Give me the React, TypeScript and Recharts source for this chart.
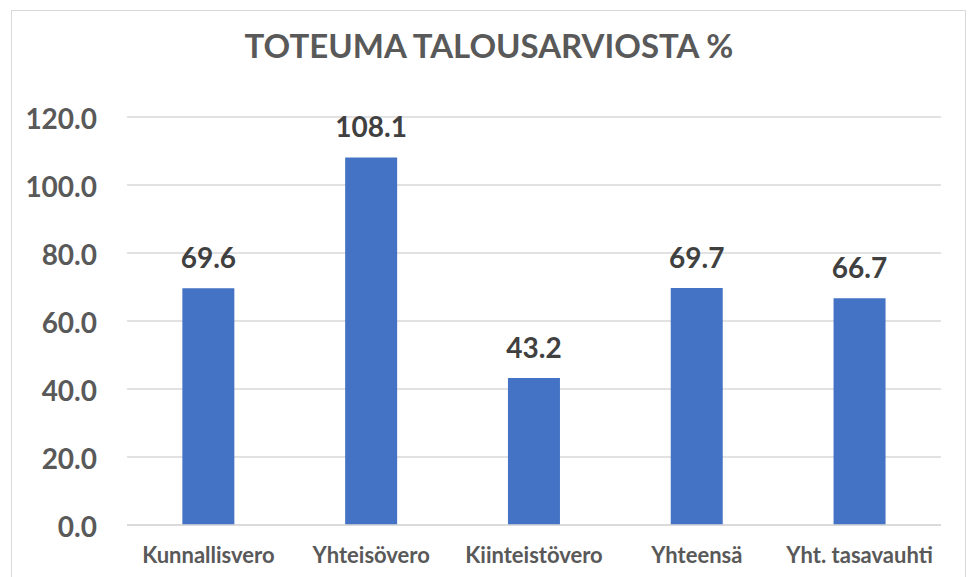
import React from "react";
import { BarChart, Bar, XAxis, YAxis, CartesianGrid, LabelList } from "recharts";

const categories = ["Kunnallisvero", "Yhteisövero", "Kiinteistövero", "Yhteensä", "Yht. tasavauhti"];
const values = [69.6, 108.1, 43.2, 69.7, 66.7];
const yTicks = [0, 20, 40, 60, 80, 100, 120];
const title = "TOTEUMA TALOUSARVIOSTA %";

const data = categories.map((name, i) => ({ name, value: values[i] }));

const FONT = "Lato, 'Open Sans', sans-serif";

export default function App() {
  return (
    <div style={{ position: "absolute", left: 0, top: 0, width: 974, height: 577, overflow: "hidden", background: "#fff" }}>
      <div
        style={{
          position: "absolute",
          left: 11,
          top: 10,
          width: 955,
          height: 600,
          border: "1.5px solid #d9d9d9",
          boxSizing: "border-box",
        }}
      />
      <div
        style={{
          position: "absolute",
          left: 11,
          width: 956,
          top: 23,
          textAlign: "center",
          fontFamily: FONT,
          fontWeight: 700,
          fontSize: 33,
          color: "#595959",
          lineHeight: "44px",
        }}
      >
        {title}
      </div>
      <div style={{ position: "absolute", left: 0, top: 0 }}>
        <BarChart
          width={974}
          height={577}
          data={data}
          margin={{ top: 117, right: 33, bottom: 22, left: 17 }}
          barCategoryGap="34%"
        >
          <CartesianGrid vertical={false} stroke="#d9d9d9" strokeWidth={1.5} />
          <XAxis
            dataKey="name"
            height={30}
            axisLine={{ stroke: "#d9d9d9", strokeWidth: 1.5 }}
            tickLine={false}
            tickSize={0}
            tickMargin={22}
            tick={{ fill: "#595959", fontFamily: FONT, fontWeight: 700, fontSize: 22 }}
            interval={0}
          />
          <YAxis
            width={110}
            domain={[0, 120]}
            ticks={yTicks}
            axisLine={false}
            tickLine={false}
            tickSize={0}
            tickMargin={30}
            tickFormatter={(v: number) => v.toFixed(1)}
            tick={{ fill: "#595959", fontFamily: FONT, fontWeight: 700, fontSize: 28, dy: 2 }}
          />
          <Bar dataKey="value" fill="#4472c4" isAnimationActive={false}>
            <LabelList
              dataKey="value"
              position="top"
              offset={20}
              formatter={(v: number) => Number(v).toFixed(1)}
              style={{ fill: "#404040", fontFamily: FONT, fontWeight: 700, fontSize: 28 }}
            />
          </Bar>
        </BarChart>
      </div>
    </div>
  );
}
